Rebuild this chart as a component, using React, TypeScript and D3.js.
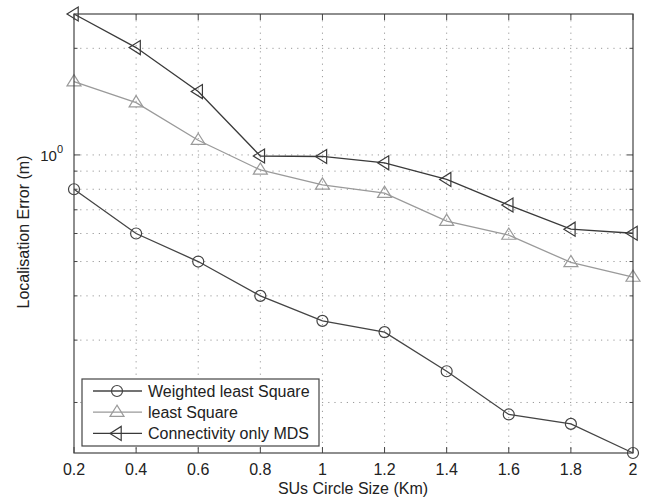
import React from "react";
import * as d3 from "d3";

const xValues = [0.2, 0.4, 0.6, 0.8, 1.0, 1.2, 1.4, 1.6, 1.8, 2.0];
const wlsValues = [0.8, 0.6, 0.5, 0.4, 0.34, 0.316, 0.245, 0.185, 0.174, 0.144];
const lsValues = [1.61, 1.405, 1.1, 0.907, 0.823, 0.78, 0.65, 0.594, 0.497, 0.452];
const mdsValues = [2.5, 2.01, 1.51, 0.993, 0.99, 0.95, 0.853, 0.722, 0.617, 0.601];
const xTicks = [0.2, 0.4, 0.6, 0.8, 1, 1.2, 1.4, 1.6, 1.8, 2];
const yMinorTicks = [0.2, 0.3, 0.4, 0.5, 0.6, 0.7, 0.8, 0.9, 1, 2];
const seriesNames = ["Weighted least Square", "least Square", "Connectivity only MDS"];

const W = 656, H = 501;
const L = 74, R = 633, T = 14, B = 453;
const FONT = "'Liberation Sans', Arial, Helvetica, sans-serif";
const AX = "#444";

export default function App() {
  const x = d3.scaleLinear().domain([0.2, 2]).range([L, R]);
  const y = d3.scaleLog().domain([0.144, 2.5]).range([B, T]);
  const series = [
    { name: seriesNames[0], vals: wlsValues, color: "#444", marker: "circle" },
    { name: seriesNames[1], vals: lsValues, color: "#9a9a9a", marker: "up" },
    { name: seriesNames[2], vals: mdsValues, color: "#3a3a3a", marker: "left" },
  ];
  const line = d3.line<[number, number]>().x(d => x(d[0])).y(d => y(d[1]));
  const marker = (m: string, cx: number, cy: number, color: string, key: any) => {
    if (m === "circle") return <circle key={key} cx={cx} cy={cy} r={5.5} fill="none" stroke={color} strokeWidth={1.2} />;
    const s = 7;
    if (m === "up") {
      const p = `${cx},${cy - s} ${cx - s},${cy + s * 0.6} ${cx + s},${cy + s * 0.6}`;
      return <polygon key={key} points={p} fill="none" stroke={color} strokeWidth={1.2} />;
    }
    const p = `${cx - s},${cy} ${cx + s * 0.6},${cy - s} ${cx + s * 0.6},${cy + s}`;
    return <polygon key={key} points={p} fill="none" stroke={color} strokeWidth={1.2} />;
  };
  const grid = "#9a9a9a";
  return (
    <svg width={W} height={H} style={{ position: "absolute", left: 0, top: 0, background: "#fff" }} fontFamily={FONT}>
      <rect x={0} y={0} width={W} height={H} fill="#fff" />
      {/* grid */}
      {xTicks.slice(1, -1).map((t, i) => (
        <line key={"gx" + i} x1={x(t)} x2={x(t)} y1={T} y2={B} stroke={grid} strokeWidth={1} strokeDasharray="1.2,5" />
      ))}
      {yMinorTicks.map((t, i) => (
        <line key={"gy" + i} x1={L} x2={R} y1={y(t)} y2={y(t)} stroke={grid} strokeWidth={1} strokeDasharray="1.2,5" />
      ))}
      {/* ticks */}
      {xTicks.map((t, i) => (
        <g key={"xt" + i}>
          <line x1={x(t)} x2={x(t)} y1={B} y2={B - 6} stroke={AX} />
          <line x1={x(t)} x2={x(t)} y1={T} y2={T + 6} stroke={AX} />
          <text x={x(t)} y={B + 22} textAnchor="middle" fontSize={16} fill="#222">{String(t)}</text>
        </g>
      ))}
      {yMinorTicks.map((t, i) => {
        const len = t === 1 ? 6 : 3.5;
        return (
          <g key={"yt" + i}>
            <line x1={L} x2={L + len} y1={y(t)} y2={y(t)} stroke={AX} />
            <line x1={R} x2={R - len} y1={y(t)} y2={y(t)} stroke={AX} />
          </g>
        );
      })}
      <text x={L - 11} y={y(1) + 6} textAnchor="end" fontSize={15} fill="#222">
        10<tspan dy={-8} fontSize={11}>0</tspan>
      </text>
      {/* series */}
      {series.map((s, si) => (
        <g key={"s" + si}>
          <path d={line(xValues.map((v, i) => [v, s.vals[i]]) as [number, number][]) || ""} fill="none" stroke={s.color} strokeWidth={1.3} />
          {xValues.map((v, i) => marker(s.marker, x(v), y(s.vals[i]), s.color, i))}
        </g>
      ))}
      {/* frame */}
      <rect x={L} y={T} width={R - L} height={B - T} fill="none" stroke={AX} strokeWidth={1.2} />
      {/* legend */}
      <rect x={82} y={379} width={237} height={67} fill="#fff" stroke={AX} strokeWidth={1.2} />
      {series.map((s, i) => {
        const ly = 391 + i * 21.2;
        return (
          <g key={"lg" + i}>
            <line x1={93} x2={142} y1={ly} y2={ly} stroke={s.color} strokeWidth={1.3} />
            {marker(s.marker, 117, ly, s.color, "m" + i)}
            <text x={148} y={ly + 6} fontSize={16} fill="#222">{s.name}</text>
          </g>
        );
      })}
      {/* axis labels */}
      <text x={353} y={494} textAnchor="middle" fontSize={16} fill="#222">SUs Circle Size (Km)</text>
      <text transform={`translate(29,${232}) rotate(-90)`} textAnchor="middle" fontSize={16} fill="#222">Localisation Error (m)</text>
    </svg>
  );
}
